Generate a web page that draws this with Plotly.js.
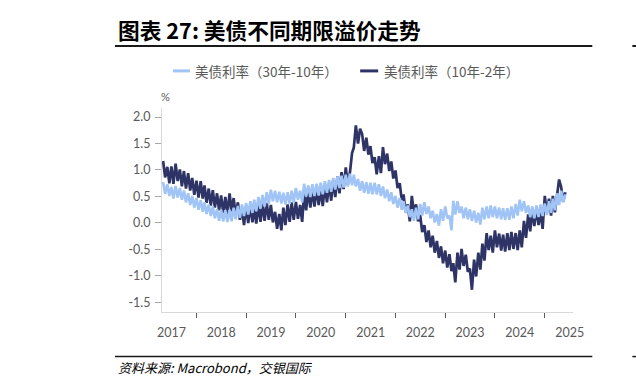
<!DOCTYPE html>
<html>
<head>
<meta charset="utf-8">
<script src="https://cdn.plot.ly/plotly-3.0.1.min.js"></script>
<style>html,body{margin:0;padding:0;background:#fff;}#chart{width:636px;height:387px;}</style>
</head>
<body>
<div id="chart"></div>
<script>
// Semi-monthly readings (1st and 16th of each month), May 2017 – Jun 2025
const seriesStart = {year: 2017, month: 5};
const seriesNames = ['美债利率（30年-10年）', '美债利率（10年-2年）'];

// 30y - 10y spread (%)
const spread30y10y = [
  0.77, 0.55, 0.73, 0.51, 0.68, 0.46, 0.70, 0.48, 0.66, 0.44, 0.61, 0.39, 0.56, 0.34, 0.51, 0.29,
  0.47, 0.25, 0.43, 0.21, 0.39, 0.17, 0.35, 0.13, 0.31, 0.09, 0.26, 0.04, 0.25, 0.03, 0.24, 0.02, 0.25, 0.03, 0.29, 0.07, 0.32, 0.10, 0.35, 0.13,
  0.38, 0.16, 0.41, 0.19, 0.44, 0.22, 0.49, 0.27, 0.53, 0.31, 0.58, 0.36, 0.63, 0.41, 0.61, 0.39, 0.59, 0.37, 0.57, 0.35, 0.58, 0.36, 0.61, 0.39,
  0.66, 0.44, 0.61, 0.39, 0.74, 0.50, 0.71, 0.49, 0.73, 0.51, 0.74, 0.52, 0.76, 0.54, 0.79, 0.57, 0.81, 0.59, 0.85, 0.63, 0.88, 0.66, 0.89, 0.67,
  0.91, 0.69, 0.93, 0.71, 0.91, 0.69, 0.83, 0.61, 0.79, 0.57, 0.77, 0.55, 0.76, 0.54, 0.76, 0.54, 0.73, 0.51, 0.69, 0.47, 0.63, 0.41, 0.58, 0.36,
  0.51, 0.29, 0.47, 0.25, 0.41, 0.19, 0.33, 0.11, 0.26, 0.04, 0.29, 0.07, 0.36, 0.14, 0.39, 0.17, 0.31, 0.09, 0.23, 0.01, 0.17, -0.05, 0.26, 0.04,
  0.31, 0.09, 0.14, -0.14, 0.42, 0.16, 0.41, 0.19, 0.31, 0.09, 0.29, 0.07, 0.26, 0.04, 0.23, 0.01, 0.19, -0.03, 0.29, 0.07, 0.31, 0.09, 0.33, 0.11,
  0.31, 0.09, 0.29, 0.07, 0.28, 0.06, 0.28, 0.06, 0.31, 0.09, 0.36, 0.14, 0.44, 0.22, 0.41, 0.19, 0.33, 0.11, 0.31, 0.09, 0.33, 0.11, 0.35, 0.13,
  0.37, 0.15, 0.41, 0.19, 0.46, 0.24, 0.56, 0.34, 0.61, 0.39, 0.54
];

// 10y - 2y spread (%)
const spread10y2y = [
  1.17, 0.86, 1.06, 0.75, 1.07, 0.74, 1.12, 0.79, 1.01, 0.69, 0.98, 0.65, 0.94, 0.61, 0.85, 0.53,
  0.80, 0.48, 0.79, 0.46, 0.71, 0.38, 0.65, 0.33, 0.62, 0.29, 0.56, 0.24, 0.52, 0.19, 0.49, 0.17, 0.56, 0.22, 0.47, 0.14, 0.39, 0.06, 0.29, -0.04,
  0.32, 0.00, 0.34, 0.01, 0.31, -0.01, 0.35, 0.02, 0.37, 0.04, 0.38, 0.06, 0.34, 0.01, 0.21, -0.11, 0.17, -0.14, 0.29, -0.04, 0.35, 0.02, 0.39, 0.06,
  0.40, 0.08, 0.34, 0.02, 0.56, 0.24, 0.62, 0.29, 0.64, 0.31, 0.66, 0.34, 0.64, 0.32, 0.71, 0.39, 0.74, 0.42, 0.81, 0.49, 0.88, 0.56, 0.96, 0.64,
  1.05, 0.73, 0.96, 1.32, 1.42, 1.84, 1.50, 1.78, 1.68, 1.36, 1.61, 1.29, 1.45, 1.13, 1.24, 0.92, 1.26, 0.94, 1.43, 1.11, 1.31, 0.98, 1.16, 0.84,
  0.99, 0.66, 0.75, 0.43, 0.54, 0.22, 0.35, 0.03, 0.51, 0.19, 0.35, 0.03, 0.15, -0.17, -0.04, -0.36, -0.14, -0.46, -0.24, -0.56, -0.34, -0.66, -0.44, -0.76,
  -0.52, -0.84, -0.59, -0.91, -0.76, -1.12, -0.56, -0.88, -0.49, -0.81, -0.60, -0.92, -0.86, -1.26, -0.69, -1.01, -0.56, -0.88, -0.39, -0.71, -0.19, -0.51, -0.24, -0.56,
  -0.14, -0.46, -0.20, -0.52, -0.22, -0.54, -0.19, -0.51, -0.17, -0.49, -0.19, -0.51, -0.14, -0.46, 0.04, -0.28, 0.16, -0.16, 0.26, -0.06, 0.28, -0.04, 0.21, -0.11,
  0.51, 0.19, 0.46, 0.14, 0.51, 0.20, 0.52, 0.82, 0.68, 0.40, 0.58
];

const yTickVals = [-1.5, -1.0, -0.5, 0.0, 0.5, 1.0, 1.5, 2.0];
const yTickText = ['-1.5', '-1.0', '-0.5', '0.0', '0.5', '1.0', '1.5', '2.0'];

const titleText = '图表 27: 美债不同期限溢价走势';
const sourceText = '资料来源: Macrobond，交银国际';
const unitText = '%';

// sampling dates
function buildDates(n) {
  const out = [];
  for (let i = 0; i < n; i++) {
    const mIdx = seriesStart.month - 1 + Math.floor(i / 2);
    const y = seriesStart.year + Math.floor(mIdx / 12);
    const m = (mIdx % 12) + 1;
    out.push(y + '-' + String(m).padStart(2, '0') + '-' + (i % 2 ? '16' : '01'));
  }
  return out;
}
const dates = buildDates(spread10y2y.length);

const lightColor = '#a0c4f5';
const darkColor = '#2e3566';

const traces = [
  {x: dates, y: spread10y2y, name: seriesNames[1], type: 'scatter', mode: 'lines',
   line: {color: darkColor, width: 2.7, simplify: false}, showlegend: false},
  {x: dates, y: spread30y10y, name: seriesNames[0], type: 'scatter', mode: 'lines',
   line: {color: lightColor, width: 2.6, simplify: false}, showlegend: false}
];

const L = 162, R = 572.7, T = 107.7, B = 312.3;
const px = v => (v - L) / (R - L);
const py = v => (B - v) / (B - T);

const layout = {
  width: 636, height: 387,
  margin: {l: L, r: 636 - R, t: T, b: 387 - B, pad: 0},
  paper_bgcolor: '#ffffff', plot_bgcolor: '#ffffff',
  showlegend: false,
  font: {family: 'Lato, "Noto Sans CJK SC", sans-serif', color: '#595959', size: 12.5},
  xaxis: {
    type: 'date', range: ['2017-04-23', '2025-07-27'],
    tick0: '2017-01-01', dtick: 'M12', tickformat: '%Y', ticklabelmode: 'period',
    ticks: 'outside', ticklen: 5, tickwidth: 1, tickcolor: '#595959',
    showline: true, linecolor: '#d9d9d9', linewidth: 1,
    showgrid: false, zeroline: false, ticklabelstandoff: 4,
    tickfont: {family: 'Lato, sans-serif', size: 12.5, color: '#595959'}
  },
  yaxis: {
    range: [-1.68, 2.17], tickvals: yTickVals, ticktext: yTickText,
    ticks: 'outside', ticklen: 6, tickwidth: 1, tickcolor: '#a6a6a6',
    showline: true, linecolor: '#d9d9d9', linewidth: 1,
    showgrid: false, zeroline: false, ticklabelstandoff: 2,
    tickfont: {family: 'Lato, sans-serif', size: 12.5, color: '#595959'}
  },
  shapes: [
    {type: 'line', xref: 'paper', yref: 'paper', x0: px(115), x1: px(592), y0: py(45.5), y1: py(45.5), line: {color: '#1a1a1a', width: 2}},
    {type: 'line', xref: 'paper', yref: 'paper', x0: px(632), x1: px(637), y0: py(45.5), y1: py(45.5), line: {color: '#1a1a1a', width: 2}},
    {type: 'line', xref: 'paper', yref: 'paper', x0: px(115), x1: px(592), y0: py(357), y1: py(357), line: {color: '#1a1a1a', width: 1.5}},
    {type: 'line', xref: 'paper', yref: 'paper', x0: px(632), x1: px(637), y0: py(357), y1: py(357), line: {color: '#1a1a1a', width: 1.5}},
    {type: 'line', xref: 'paper', yref: 'paper', x0: px(173), x1: px(190), y0: py(70.5), y1: py(70.5), line: {color: lightColor, width: 3}},
    {type: 'line', xref: 'paper', yref: 'paper', x0: px(360), x1: px(378), y0: py(70.5), y1: py(70.5), line: {color: darkColor, width: 3}}
  ],
  annotations: [
    {text: '<b>' + titleText + '</b>', xref: 'paper', yref: 'paper', x: px(116), y: py(29), xanchor: 'left', yanchor: 'middle', showarrow: false,
     font: {family: '"Noto Sans CJK SC", sans-serif', size: 21.7, color: '#000000'}},
    {text: '<i>' + sourceText + '</i>', xref: 'paper', yref: 'paper', x: px(116), y: py(368), xanchor: 'left', yanchor: 'middle', showarrow: false,
     font: {family: '"Noto Sans CJK SC", sans-serif', size: 13, color: '#000000'}},
    {text: seriesNames[0], xref: 'paper', yref: 'paper', x: px(193), y: py(70.5), xanchor: 'left', yanchor: 'middle', showarrow: false,
     font: {family: '"Noto Sans CJK SC", sans-serif', size: 13.5, color: '#595959'}},
    {text: seriesNames[1], xref: 'paper', yref: 'paper', x: px(382), y: py(70.5), xanchor: 'left', yanchor: 'middle', showarrow: false,
     font: {family: '"Noto Sans CJK SC", sans-serif', size: 13.5, color: '#595959'}},
    {text: unitText, xref: 'paper', yref: 'paper', x: px(159), y: py(96), xanchor: 'left', yanchor: 'middle', showarrow: false,
     font: {family: 'Lato, sans-serif', size: 11, color: '#595959'}}
  ]
};

Plotly.newPlot('chart', traces, layout, {staticPlot: true, displayModeBar: false});
</script>
</body>
</html>
